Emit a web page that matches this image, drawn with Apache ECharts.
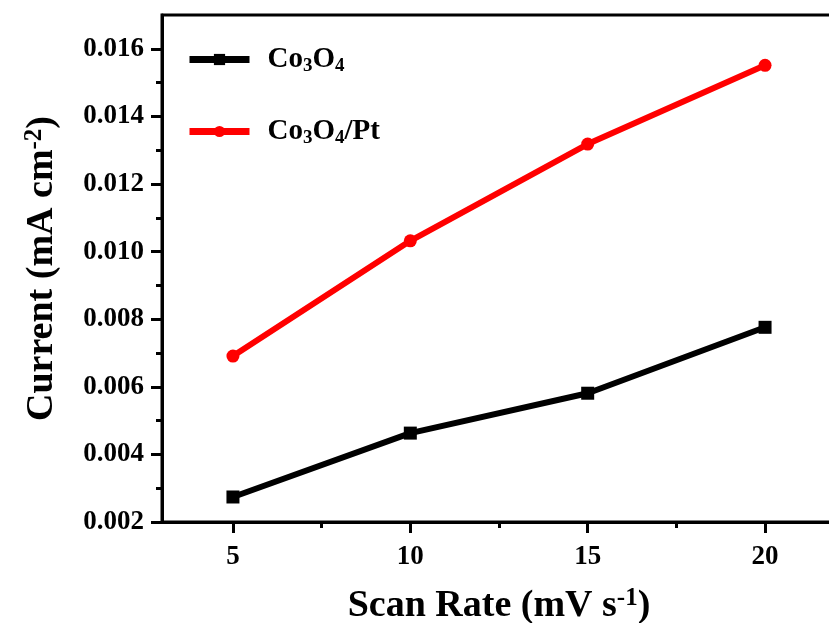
<!DOCTYPE html>
<html>
<head>
<meta charset="utf-8">
<script src="https://cdn.jsdelivr.net/npm/echarts@6/dist/echarts.min.js"></script>
<style>
  html, body { margin: 0; padding: 0; background: #fff; }
  #chart { width: 829px; height: 623px; }
</style>
</head>
<body>
<div id="chart"></div>
<script>
// scan rate (mV s-1)
const scanRates = [5, 10, 15, 20]
const co3o4 = [0.00274, 0.00463, 0.00581, 0.00776]
const co3o4Pt = [0.00691, 0.01032, 0.01318, 0.01551]
const xMajor = [5, 10, 15, 20]
const xMinor = [7.5, 12.5, 17.5]
const yMajor = [0.002, 0.004, 0.006, 0.008, 0.010, 0.012, 0.014, 0.016]
const yMinor = [0.003, 0.005, 0.007, 0.009, 0.011, 0.013, 0.015]

const FONT = '"Liberation Serif", "Times New Roman", serif'
const chart = echarts.init(document.getElementById('chart'))

const pair = (ys) => scanRates.map((x, i) => [x, ys[i]])

const baseX = {
  type: 'value', min: 3, max: 22, position: 'bottom',
  splitLine: { show: false }
}
const baseY = {
  type: 'value', min: 0.002, max: 0.017, position: 'left',
  splitLine: { show: false }
}

const option = {
  backgroundColor: '#fff',
  animation: false,
  grid: {
    left: 162, top: 15, right: -7, bottom: 101,
    outerBoundsMode: 'none',
    containLabel: false,
    show: true, borderColor: '#000', borderWidth: 3
  },
  legend: {
    orient: 'vertical',
    left: 186, top: 45, padding: 0,
    itemWidth: 60, itemHeight: 14, itemGap: 41,
    data: ['Co3O4', 'Co3O4/Pt'],
    lineStyle: { width: 7 },
    formatter: (name) => name === 'Co3O4'
      ? '{b|Co}{s|3}{b|O}{s|4}'
      : '{b|Co}{s|3}{b|O}{s|4}{b|/Pt}',
    textStyle: {
      padding: [0, 0, 0, 13],
      rich: {
        b: { fontFamily: FONT, fontWeight: 'bold', fontSize: 29, color: '#000' },
        s: { fontFamily: FONT, fontWeight: 'bold', fontSize: 19, color: '#000', verticalAlign: 'bottom', padding: [14, 0, 0, 0] }
      }
    }
  },
  xAxis: [
    Object.assign({}, baseX, {
      name: 'Scan Rate (mV s{sup|-1}{n|)}',
      nameLocation: 'middle', nameGap: 64,
      nameTextStyle: {
        fontFamily: FONT, fontWeight: 'bold', fontSize: 38, color: '#000',
        rich: {
          sup: { fontFamily: FONT, fontWeight: 'bold', fontSize: 25, color: '#000', verticalAlign: 'top', padding: [0, 0, 16, 0] },
          n: { fontFamily: FONT, fontWeight: 'bold', fontSize: 38, color: '#000' }
        }
      },
      axisLine: { show: true, lineStyle: { color: '#000', width: 3 } },
      axisTick: { show: true, inside: false, length: 11, customValues: xMajor, lineStyle: { color: '#000', width: 3 } },
      axisLabel: { customValues: xMajor, margin: 22, fontFamily: FONT, fontWeight: 'bold', fontSize: 27, color: '#000' }
    }),
    Object.assign({}, baseX, {
      axisLine: { show: false },
      axisTick: { show: true, inside: false, length: 6, customValues: xMinor, lineStyle: { color: '#000', width: 3 } },
      axisLabel: { show: false }
    })
  ],
  yAxis: [
    Object.assign({}, baseY, {
      name: 'Current (mA cm{sup|-2}{n|)}',
      nameLocation: 'middle', nameGap: 100, nameRotate: 90,
      nameTextStyle: {
        fontFamily: FONT, fontWeight: 'bold', fontSize: 38, color: '#000',
        rich: {
          sup: { fontFamily: FONT, fontWeight: 'bold', fontSize: 25, color: '#000', verticalAlign: 'top', padding: [0, 0, 15, 0] },
          n: { fontFamily: FONT, fontWeight: 'bold', fontSize: 38, color: '#000' }
        }
      },
      axisLine: { show: true, lineStyle: { color: '#000', width: 3 } },
      axisTick: { show: true, inside: false, length: 11, customValues: yMajor, lineStyle: { color: '#000', width: 3 } },
      axisLabel: {
        customValues: yMajor, margin: 18,
        formatter: (v) => v.toFixed(3),
        fontFamily: FONT, fontWeight: 'bold', fontSize: 27, color: '#000'
      }
    }),
    Object.assign({}, baseY, {
      axisLine: { show: false },
      axisTick: { show: true, inside: false, length: 6, customValues: yMinor, lineStyle: { color: '#000', width: 3 } },
      axisLabel: { show: false }
    })
  ],
  series: [
    {
      name: 'Co3O4', type: 'line', data: pair(co3o4),
      symbol: 'rect', symbolSize: 13,
      lineStyle: { color: '#000', width: 6 },
      itemStyle: { color: '#000' }
    },
    {
      name: 'Co3O4/Pt', type: 'line', data: pair(co3o4Pt),
      symbol: 'circle', symbolSize: 13,
      lineStyle: { color: '#ff0000', width: 6 },
      itemStyle: { color: '#ff0000' }
    }
  ]
}

chart.setOption(option)
</script>
</body>
</html>
